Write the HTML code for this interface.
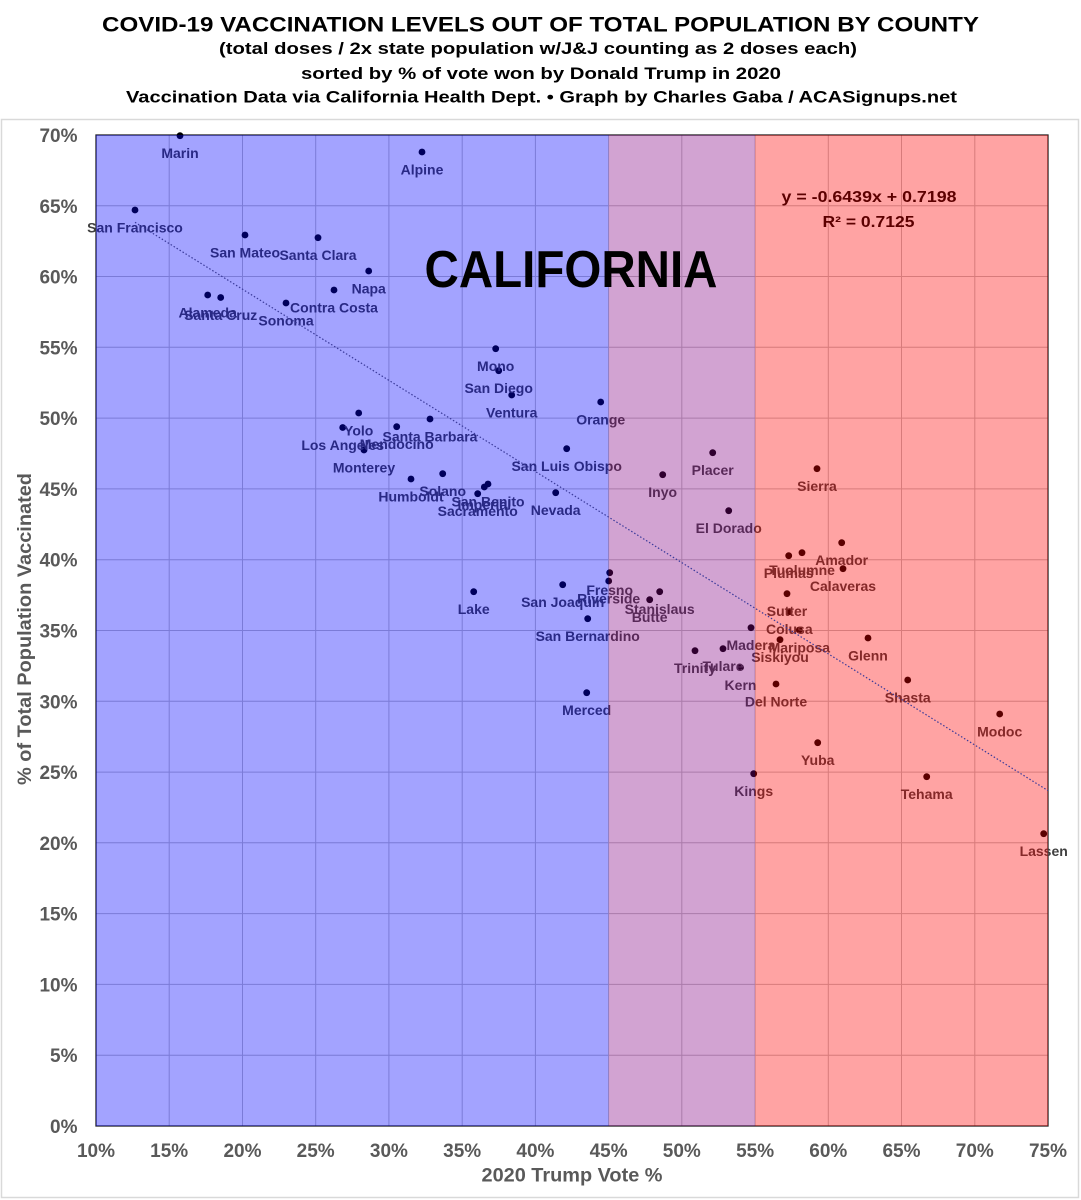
<!DOCTYPE html>
<html><head><meta charset="utf-8"><style>
html,body{margin:0;padding:0;background:#fff;}
svg{display:block;}
</style></head><body>
<svg width="1081" height="1200" viewBox="0 0 1081 1200" xmlns="http://www.w3.org/2000/svg" font-family="'Liberation Sans', Arial, sans-serif">
<rect x="0" y="0" width="1081" height="1200" fill="#fff"/>
<!-- titles -->
<g fill="#000" text-anchor="middle" font-family="'Liberation Sans Narrow','Liberation Sans',sans-serif">
<text x="540.5" y="31.5" font-size="21.5" font-weight="bold" textLength="877" lengthAdjust="spacingAndGlyphs">COVID-19 VACCINATION LEVELS OUT OF TOTAL POPULATION BY COUNTY</text>
<text x="538" y="54" font-size="16.5" font-weight="bold" textLength="638" lengthAdjust="spacingAndGlyphs">(total doses / 2x state population w/J&amp;J counting as 2 doses each)</text>
<text x="541" y="79" font-size="16.5" font-weight="bold" textLength="480" lengthAdjust="spacingAndGlyphs">sorted by % of vote won by Donald Trump in 2020</text>
<text x="541.5" y="102.5" font-size="16.5" font-weight="bold" textLength="831" lengthAdjust="spacingAndGlyphs">Vaccination Data via California Health Dept. • Graph by Charles Gaba / ACASignups.net</text>
</g>
<!-- chart border -->
<rect x="1.5" y="119.5" width="1077" height="1078" fill="none" stroke="#d9d9d9" stroke-width="1.5"/>
<!-- gridlines -->
<g stroke="#c0c0c0" stroke-width="1">
<line x1="169.2" y1="135" x2="169.2" y2="1126"/>
<line x1="242.5" y1="135" x2="242.5" y2="1126"/>
<line x1="315.7" y1="135" x2="315.7" y2="1126"/>
<line x1="388.9" y1="135" x2="388.9" y2="1126"/>
<line x1="462.2" y1="135" x2="462.2" y2="1126"/>
<line x1="535.4" y1="135" x2="535.4" y2="1126"/>
<line x1="608.6" y1="135" x2="608.6" y2="1126"/>
<line x1="681.8" y1="135" x2="681.8" y2="1126"/>
<line x1="755.1" y1="135" x2="755.1" y2="1126"/>
<line x1="828.3" y1="135" x2="828.3" y2="1126"/>
<line x1="901.5" y1="135" x2="901.5" y2="1126"/>
<line x1="974.8" y1="135" x2="974.8" y2="1126"/>
<line x1="96" y1="1055.2" x2="1048" y2="1055.2"/>
<line x1="96" y1="984.4" x2="1048" y2="984.4"/>
<line x1="96" y1="913.6" x2="1048" y2="913.6"/>
<line x1="96" y1="842.8" x2="1048" y2="842.8"/>
<line x1="96" y1="772.1" x2="1048" y2="772.1"/>
<line x1="96" y1="701.3" x2="1048" y2="701.3"/>
<line x1="96" y1="630.5" x2="1048" y2="630.5"/>
<line x1="96" y1="559.7" x2="1048" y2="559.7"/>
<line x1="96" y1="488.9" x2="1048" y2="488.9"/>
<line x1="96" y1="418.1" x2="1048" y2="418.1"/>
<line x1="96" y1="347.3" x2="1048" y2="347.3"/>
<line x1="96" y1="276.5" x2="1048" y2="276.5"/>
<line x1="96" y1="205.8" x2="1048" y2="205.8"/>
</g>
<rect x="96" y="135" width="952" height="991" fill="none" stroke="#222" stroke-width="1.3"/>
<!-- dots -->
<g fill="#000">
<circle cx="180" cy="135.7" r="3.4"/>
<circle cx="135" cy="210" r="3.4"/>
<circle cx="245" cy="235" r="3.4"/>
<circle cx="318" cy="237.7" r="3.4"/>
<circle cx="368.7" cy="271" r="3.4"/>
<circle cx="334" cy="290" r="3.4"/>
<circle cx="286" cy="303" r="3.4"/>
<circle cx="207.7" cy="295" r="3.4"/>
<circle cx="220.7" cy="297.5" r="3.4"/>
<circle cx="422" cy="152" r="3.4"/>
<circle cx="495.7" cy="348.7" r="3.4"/>
<circle cx="498.7" cy="370.7" r="3.4"/>
<circle cx="511.7" cy="395" r="3.4"/>
<circle cx="600.7" cy="402" r="3.4"/>
<circle cx="358.7" cy="413" r="3.4"/>
<circle cx="430" cy="419" r="3.4"/>
<circle cx="396.7" cy="426.7" r="3.4"/>
<circle cx="342.7" cy="427.5" r="3.4"/>
<circle cx="364" cy="450" r="3.4"/>
<circle cx="411" cy="479" r="3.4"/>
<circle cx="442.7" cy="473.7" r="3.4"/>
<circle cx="477.7" cy="493.7" r="3.4"/>
<circle cx="484.3" cy="487" r="3.4"/>
<circle cx="488" cy="484" r="3.4"/>
<circle cx="566.7" cy="448.7" r="3.4"/>
<circle cx="555.7" cy="492.7" r="3.4"/>
<circle cx="662.7" cy="474.7" r="3.4"/>
<circle cx="473.7" cy="591.7" r="3.4"/>
<circle cx="562.7" cy="584.7" r="3.4"/>
<circle cx="609.7" cy="572.7" r="3.4"/>
<circle cx="608.7" cy="581" r="3.4"/>
<circle cx="659.7" cy="591.7" r="3.4"/>
<circle cx="649.7" cy="599.7" r="3.4"/>
<circle cx="587.7" cy="618.7" r="3.4"/>
<circle cx="586.7" cy="692.7" r="3.4"/>
<circle cx="712.7" cy="452.7" r="3.4"/>
<circle cx="728.7" cy="510.7" r="3.4"/>
<circle cx="817" cy="468.7" r="3.4"/>
<circle cx="841.7" cy="542.7" r="3.4"/>
<circle cx="802" cy="552.7" r="3.4"/>
<circle cx="788.7" cy="555.7" r="3.4"/>
<circle cx="843" cy="568.7" r="3.4"/>
<circle cx="787" cy="593.7" r="3.4"/>
<circle cx="789.3" cy="611.7" r="3.4"/>
<circle cx="799.3" cy="630" r="3.4"/>
<circle cx="780" cy="639.7" r="3.4"/>
<circle cx="751" cy="627.7" r="3.4"/>
<circle cx="723" cy="648.7" r="3.4"/>
<circle cx="695" cy="650.7" r="3.4"/>
<circle cx="740.5" cy="667.5" r="3.4"/>
<circle cx="776" cy="684" r="3.4"/>
<circle cx="868" cy="638" r="3.4"/>
<circle cx="907.7" cy="680" r="3.4"/>
<circle cx="999.7" cy="714" r="3.4"/>
<circle cx="817.7" cy="742.7" r="3.4"/>
<circle cx="753.7" cy="773.7" r="3.4"/>
<circle cx="926.7" cy="776.7" r="3.4"/>
<circle cx="1043.7" cy="833.7" r="3.4"/>
</g>
<!-- labels -->
<g fill="#404040" font-size="14" font-weight="bold" text-anchor="middle">
<text x="180" y="158.2">Marin</text>
<text x="135" y="232.5">San Francisco</text>
<text x="245" y="257.5">San Mateo</text>
<text x="318" y="260.2">Santa Clara</text>
<text x="368.7" y="293.5">Napa</text>
<text x="334" y="312.5">Contra Costa</text>
<text x="286" y="325.5">Sonoma</text>
<text x="207.7" y="317.5">Alameda</text>
<text x="220.7" y="320">Santa Cruz</text>
<text x="422" y="174.5">Alpine</text>
<text x="495.7" y="371.2">Mono</text>
<text x="498.7" y="393.2">San Diego</text>
<text x="511.7" y="417.5">Ventura</text>
<text x="600.7" y="424.5">Orange</text>
<text x="358.7" y="435.5">Yolo</text>
<text x="430" y="441.5">Santa Barbara</text>
<text x="396.7" y="449.2">Mendocino</text>
<text x="342.7" y="450">Los Angeles</text>
<text x="364" y="472.5">Monterey</text>
<text x="411" y="501.5">Humboldt</text>
<text x="442.7" y="496.2">Solano</text>
<text x="477.7" y="516.2">Sacramento</text>
<text x="484.3" y="509.5">Imperial</text>
<text x="488" y="506.5">San Benito</text>
<text x="566.7" y="471.2">San Luis Obispo</text>
<text x="555.7" y="515.2">Nevada</text>
<text x="662.7" y="497.2">Inyo</text>
<text x="473.7" y="614.2">Lake</text>
<text x="562.7" y="607.2">San Joaquin</text>
<text x="609.7" y="595.2">Fresno</text>
<text x="608.7" y="603.5">Riverside</text>
<text x="659.7" y="614.2">Stanislaus</text>
<text x="649.7" y="622.2">Butte</text>
<text x="587.7" y="641.2">San Bernardino</text>
<text x="586.7" y="715.2">Merced</text>
<text x="712.7" y="475.2">Placer</text>
<text x="728.7" y="533.2">El Dorado</text>
<text x="817" y="491.2">Sierra</text>
<text x="841.7" y="565.2">Amador</text>
<text x="802" y="575.2">Tuolumne</text>
<text x="788.7" y="578.2">Plumas</text>
<text x="843" y="591.2">Calaveras</text>
<text x="787" y="616.2">Sutter</text>
<text x="789.3" y="634.2">Colusa</text>
<text x="799.3" y="652.5">Mariposa</text>
<text x="780" y="662.2">Siskiyou</text>
<text x="751" y="650.2">Madera</text>
<text x="723" y="671.2">Tulare</text>
<text x="695" y="673.2">Trinity</text>
<text x="740.5" y="690">Kern</text>
<text x="776" y="706.5">Del Norte</text>
<text x="868" y="660.5">Glenn</text>
<text x="907.7" y="702.5">Shasta</text>
<text x="999.7" y="736.5">Modoc</text>
<text x="817.7" y="765.2">Yuba</text>
<text x="753.7" y="796.2">Kings</text>
<text x="926.7" y="799.2">Tehama</text>
<text x="1043.7" y="856.2">Lassen</text>
</g>
<!-- equation -->
<g fill="#000" font-size="15.5" font-weight="bold" text-anchor="middle">
<text x="869" y="202" textLength="175" lengthAdjust="spacingAndGlyphs">y = -0.6439x + 0.7198</text>
<text x="868.5" y="227" textLength="92" lengthAdjust="spacingAndGlyphs">R² = 0.7125</text>
</g>
<!-- overlays -->
<rect x="96" y="135" width="512.6" height="991" fill="rgb(0,0,255)" fill-opacity="0.36"/>
<rect x="608.6" y="135" width="146.5" height="991" fill="rgb(130,0,130)" fill-opacity="0.36"/>
<rect x="755.1" y="135" width="292.9" height="991" fill="rgb(255,0,0)" fill-opacity="0.36"/>
<!-- trendline -->
<line x1="135" y1="222.3" x2="1048" y2="790.6" stroke="#3a3a9a" stroke-width="1.2" stroke-dasharray="1.5,2"/>
<!-- CALIFORNIA -->
<text x="424.5" y="287" font-size="52" font-weight="bold" fill="#000" textLength="293" lengthAdjust="spacingAndGlyphs">CALIFORNIA</text>
<!-- y tick labels -->
<g fill="#595959" font-size="19" font-weight="bold" text-anchor="end">
<text x="77.5" y="142">70%</text>
<text x="77.5" y="212.8">65%</text>
<text x="77.5" y="283.5">60%</text>
<text x="77.5" y="354.3">55%</text>
<text x="77.5" y="425.1">50%</text>
<text x="77.5" y="495.9">45%</text>
<text x="77.5" y="566.7">40%</text>
<text x="77.5" y="637.5">35%</text>
<text x="77.5" y="708.3">30%</text>
<text x="77.5" y="779.1">25%</text>
<text x="77.5" y="849.8">20%</text>
<text x="77.5" y="920.6">15%</text>
<text x="77.5" y="991.4">10%</text>
<text x="77.5" y="1062.2">5%</text>
<text x="77.5" y="1133">0%</text>
</g>
<!-- x tick labels -->
<g fill="#595959" font-size="19" font-weight="bold" text-anchor="middle">
<text x="96" y="1157">10%</text>
<text x="169.2" y="1157">15%</text>
<text x="242.5" y="1157">20%</text>
<text x="315.7" y="1157">25%</text>
<text x="388.9" y="1157">30%</text>
<text x="462.2" y="1157">35%</text>
<text x="535.4" y="1157">40%</text>
<text x="608.6" y="1157">45%</text>
<text x="681.8" y="1157">50%</text>
<text x="755.1" y="1157">55%</text>
<text x="828.3" y="1157">60%</text>
<text x="901.5" y="1157">65%</text>
<text x="974.8" y="1157">70%</text>
<text x="1048" y="1157">75%</text>
</g>
<!-- axis titles -->
<text x="572" y="1181.5" fill="#595959" font-size="19.5" font-weight="bold" text-anchor="middle" textLength="181" lengthAdjust="spacingAndGlyphs">2020 Trump Vote %</text>
<text transform="translate(31,629) rotate(-90)" x="0" y="0" fill="#595959" font-size="19.5" font-weight="bold" text-anchor="middle" textLength="312" lengthAdjust="spacingAndGlyphs">% of Total Population Vaccinated</text>
</svg>
</body></html>
